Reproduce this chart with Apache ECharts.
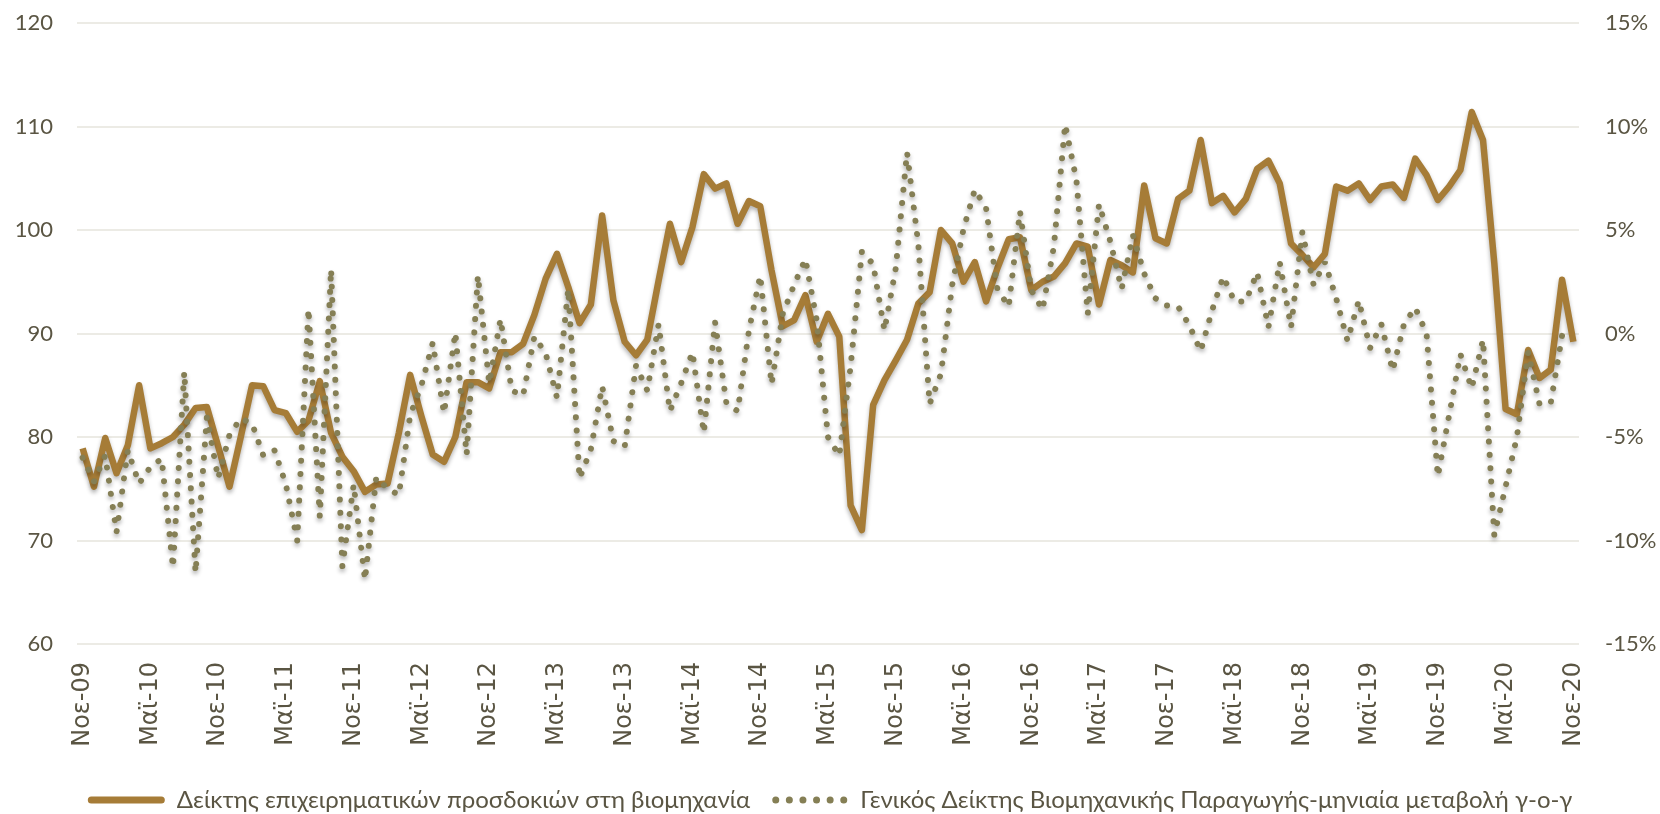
<!DOCTYPE html>
<html>
<head>
<meta charset="utf-8">
<script src="https://cdn.jsdelivr.net/npm/echarts@6/dist/echarts.min.js"></script>
<style>
  html, body { margin: 0; padding: 0; background: #fff; }
  #main { width: 1660px; height: 814px; }
</style>
</head>
<body>
<div id="main"></div>
<script>
var chart = echarts.init(document.getElementById('main'));

// months Νοε-09 .. Νοε-20
var monthNames = ['Ιαν', 'Φεβ', 'Μαρ', 'Απρ', 'Μαϊ', 'Ιουν', 'Ιουλ', 'Αυγ', 'Σεπ', 'Οκτ', 'Νοε', 'Δεκ'];
var months = [];
for (var k = 0; k < 133; k++) {
  var m = (10 + k) % 12;
  var y = 9 + Math.floor((10 + k) / 12);
  months.push(monthNames[m] + '-' + (y < 10 ? '0' + y : y));
}

// Δείκτης επιχειρηματικών προσδοκιών (left axis)
var expectations = [
  78.9, 75.2, 79.9, 76.5, 79.2, 85.0, 78.9, 79.4, 80.0, 81.2,
  82.8, 82.9, 79.1, 75.2, 80.0, 85.0, 84.9, 82.6, 82.3, 80.5,
  81.6, 85.4, 80.4, 78.1, 76.7, 74.7, 75.4, 75.5, 80.4, 86.0,
  82.0, 78.3, 77.6, 80.0, 85.3, 85.3, 84.7, 88.2, 88.2, 89.0,
  91.8, 95.3, 97.7, 94.5, 91.0, 92.8, 101.4, 93.2, 89.2, 87.9,
  89.4, 95.1, 100.6, 96.9, 100.3, 105.4, 104.0, 104.5, 100.6, 102.8,
  102.3, 96.1, 90.7, 91.3, 93.7, 89.2, 91.9, 89.7, 73.4, 71.0,
  83.1, 85.5, 87.4, 89.4, 92.9, 94.0, 100.0, 98.7, 95.0, 96.9,
  93.1, 96.3, 99.1, 99.3, 94.2, 95.0, 95.5, 96.8, 98.7, 98.4,
  92.8, 97.1, 96.6, 95.9, 104.3, 99.2, 98.7, 103.0, 103.8, 108.7,
  102.6, 103.3, 101.7, 103.0, 105.9, 106.7, 104.5, 98.7, 97.6, 96.4,
  97.7, 104.2, 103.8, 104.5, 102.9, 104.2, 104.4, 103.1, 106.9, 105.3,
  102.9, 104.2, 105.8, 111.4, 108.7, 96.8, 82.7, 82.2, 88.4, 85.7,
  86.5, 95.2, 89.2
];

// Γενικός Δείκτης Βιομηχανικής Παραγωγής, % y-o-y (right axis)
var production = [
  -6.0, -7.15, -5.9, -9.6, -5.65, -7.25, -6.45, -6.05, -11.3, -1.85,
  -11.55, -4.05, -7.0, -4.9, -4.1, -4.35, -5.9, -5.65, -7.3, -10.0,
  1.2, -8.85, 3.1, -11.25, -7.3, -11.9, -6.95, -7.5, -7.8, -3.95,
  -2.5, -0.45, -3.85, 0.05, -5.85, 2.8, -2.4, 0.7, -2.75, -3.0,
  -0.15, -0.95, -3.1, 2.15, -7.0, -5.6, -2.55, -5.2, -5.45, -1.55,
  -2.75, 0.45, -3.75, -2.4, -0.9, -4.8, 0.55, -3.35, -3.75, 0.15,
  2.8, -2.45, 0.95, 2.35, 3.6, 0.65, -5.0, -5.9, -1.6, 3.95,
  3.35, 0.15, 3.15, 8.75, 4.3, -3.4, -1.95, 2.35, 5.05, 6.95,
  6.05, 2.15, 1.3, 5.9, 2.1, 1.15, 4.2, 10.1, 7.4, 0.95,
  6.25, 4.45, 2.15, 4.75, 2.9, 1.7, 1.35, 1.3, 0.4, -0.85,
  1.1, 2.75, 1.55, 1.55, 2.95, 0.3, 3.45, 0.3, 4.9, 2.35,
  3.45, 1.7, -0.35, 1.6, -0.7, 0.45, -1.8, 0.45, 1.25, 0.0,
  -6.9, -3.95, -1.0, -2.65, -0.3, -9.75, -7.4, -5.0, -0.9, -3.4,
  -3.35, -0.1, null
];

var seriesNames = [
  'Δείκτης επιχειρηματικών προσδοκιών στη βιομηχανία',
  'Γενικός Δείκτης Βιομηχανικής Παραγωγής-μηνιαία μεταβολή γ-ο-γ'
];

var textColor = '#5a5543';
var lineColor = '#a67c37';
var dotColor = '#857f55';

// legend icons: a thick bar and a row of dots
var barIcon = 'path://M3.5,0 L73.5,0 A3.5,3.5 0 0 1 73.5,7 L3.5,7 A3.5,3.5 0 0 1 3.5,0 Z';
var dotIcon = 'path://';
for (var d = 0; d < 6; d++) {
  var cx = 3.5 + d * 13.6;
  dotIcon += 'M' + (cx - 3.5) + ',3.5 A3.5,3.5 0 1 0 ' + (cx + 3.5) + ',3.5 A3.5,3.5 0 1 0 ' + (cx - 3.5) + ',3.5 Z ';
}

var option = {
  backgroundColor: '#fff',
  animation: false,
  grid: {
    left: 77,
    right: 81,
    top: 23,
    bottom: 170
  },
  legend: {
    left: 'center',
    top: 783,
    itemWidth: 77,
    itemHeight: 7,
    itemGap: 22,
    textStyle: {
      color: textColor,
      fontFamily: 'Lato',
      fontSize: 24,
      padding: [0, 0, 0, 7]
    },
    data: [
      { name: seriesNames[0], icon: barIcon },
      { name: seriesNames[1], icon: dotIcon }
    ]
  },
  xAxis: {
    type: 'category',
    boundaryGap: true,
    data: months,
    axisLine: { show: false },
    axisTick: { show: false },
    axisLabel: {
      interval: 5,
      rotate: 90,
      margin: 18,
      color: textColor,
      fontFamily: 'DejaVu Sans',
      fontSize: 24
    }
  },
  yAxis: [
    {
      type: 'value',
      min: 60,
      max: 120,
      interval: 10,
      axisLine: { show: false },
      axisTick: { show: false },
      axisLabel: {
        margin: 24,
        color: textColor,
        fontFamily: 'Lato',
        fontSize: 22
      },
      splitLine: {
        lineStyle: { color: '#e6e4dd', width: 1.5 }
      }
    },
    {
      type: 'value',
      min: -15,
      max: 15,
      interval: 5,
      axisLine: { show: false },
      axisTick: { show: false },
      axisLabel: {
        margin: 26,
        formatter: '{value}%',
        color: textColor,
        fontFamily: 'Lato',
        fontSize: 22
      },
      splitLine: { show: false }
    }
  ],
  series: [
    {
      name: seriesNames[0],
      type: 'line',
      yAxisIndex: 0,
      symbol: 'none',
      data: expectations,
      lineStyle: {
        color: lineColor,
        width: 6.5,
        join: 'round',
        shadowColor: 'rgba(0,0,0,0.3)',
        shadowBlur: 4,
        shadowOffsetY: 3
      },
      itemStyle: { color: lineColor }
    },
    {
      name: seriesNames[1],
      type: 'line',
      yAxisIndex: 1,
      symbol: 'none',
      data: production,
      lineStyle: {
        color: dotColor,
        width: 6,
        type: [0.01, 13.3],
        cap: 'round',
        shadowColor: 'rgba(0,0,0,0.3)',
        shadowBlur: 4,
        shadowOffsetY: 3
      },
      itemStyle: { color: dotColor }
    }
  ]
};

chart.setOption(option);
</script>
</body>
</html>
